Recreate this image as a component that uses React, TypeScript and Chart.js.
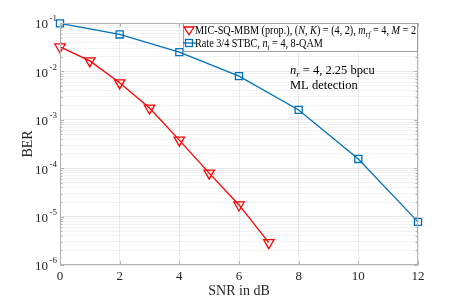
import React, { useEffect, useRef } from "react";
import { Chart, registerables } from "chart.js";

Chart.register(...registerables);

const snrProp = [0, 1, 2, 3, 4, 5, 6, 7];
const berProp = [0.032, 0.0165, 0.0058, 0.00175, 0.00038, 0.000079, 0.0000174, 0.0000029];
const snrStbc = [0, 2, 4, 6, 8, 10, 12];
const berStbc = [0.098, 0.058, 0.025, 0.008, 0.0016, 0.000155, 0.0000078];
const xTicks = [0, 2, 4, 6, 8, 10, 12];
const yDecades = [-1, -2, -3, -4, -5, -6];

const SERIF = '"Liberation Serif", "DejaVu Serif", serif';
const RED = "#ff0000";
const BLUE = "#0072bd";
const AXIS = "#b4b4b4";

type Seg = { t: string; i?: boolean; sub?: boolean };

function measureRich(ctx: CanvasRenderingContext2D, segs: Seg[], size: number) {
  let w = 0;
  for (const s of segs) {
    const fs = s.sub ? size * 0.7 : size;
    ctx.font = `${s.i ? "italic " : ""}${fs}px ${SERIF}`;
    w += ctx.measureText(s.t).width;
  }
  return w;
}

function drawRich(ctx: CanvasRenderingContext2D, segs: Seg[], x: number, y: number, size: number, sx = 1) {
  ctx.save();
  ctx.translate(x, y);
  ctx.scale(sx, 1);
  let cx = 0;
  for (const s of segs) {
    const fs = s.sub ? size * 0.7 : size;
    ctx.font = `${s.i ? "italic " : ""}${fs}px ${SERIF}`;
    ctx.fillText(s.t, cx, s.sub ? size * 0.25 : 0);
    cx += ctx.measureText(s.t).width;
  }
  ctx.restore();
}

function drawTri(ctx: CanvasRenderingContext2D, x: number, y: number, r: number) {
  ctx.beginPath();
  ctx.moveTo(x - r, y - r * 0.6);
  ctx.lineTo(x + r, y - r * 0.6);
  ctx.lineTo(x, y + r * 0.95);
  ctx.closePath();
  ctx.stroke();
}

const overlay = {
  id: "overlay",
  afterDraw(chart: any) {
    const ctx: CanvasRenderingContext2D = chart.ctx;
    const a = chart.chartArea;
    const ys = chart.scales.y;
    const xs = chart.scales.x;
    ctx.save();
    ctx.strokeStyle = AXIS;
    ctx.lineWidth = 1;
    ctx.strokeRect(a.left + 0.5, a.top + 0.5, a.right - a.left - 1, a.bottom - a.top - 1);
    ctx.beginPath();
    for (let d = -6; d <= -1; d++) {
      for (let m = 1; m <= 9; m++) {
        const v = m * Math.pow(10, d);
        if (v > 0.1 + 1e-12 || v < 1e-6 - 1e-15) continue;
        const py = Math.round(ys.getPixelForValue(v)) + 0.5;
        const len = m === 1 ? 4 : 2.5;
        ctx.moveTo(a.left, py);
        ctx.lineTo(a.left + len, py);
        ctx.moveTo(a.right, py);
        ctx.lineTo(a.right - len, py);
      }
    }
    for (const t of xTicks) {
      const px = Math.round(xs.getPixelForValue(t)) + 0.5;
      ctx.moveTo(px, a.bottom);
      ctx.lineTo(px, a.bottom - 4);
      ctx.moveTo(px, a.top);
      ctx.lineTo(px, a.top + 4);
    }
    ctx.stroke();

    ctx.fillStyle = "#262626";
    ctx.textBaseline = "middle";
    for (const d of yDecades) {
      const py = ys.getPixelForValue(Math.pow(10, d));
      ctx.font = `13px ${SERIF}`;
      ctx.textAlign = "right";
      ctx.fillText("10", 48, py + 2);
      ctx.textAlign = "left";
      ctx.font = `9px ${SERIF}`;
      ctx.fillText(String(d), 49.5, py - 4);
    }

    ctx.textAlign = "center";
    ctx.font = `14px ${SERIF}`;
    ctx.fillText("SNR in dB", (a.left + a.right) / 2, 291);
    ctx.save();
    ctx.translate(28, 144);
    ctx.rotate(-Math.PI / 2);
    ctx.fillText("BER", 0, 0);
    ctx.restore();

    const lx = 183, ly = a.top, lw = a.right - 183, lh = 29;
    ctx.fillStyle = "#ffffff";
    ctx.fillRect(lx, ly, lw, lh);
    ctx.strokeStyle = "#a0a0a0";
    ctx.strokeRect(lx + 0.5, ly + 0.5, lw - 1, lh - 1);
    ctx.textAlign = "left";
    ctx.textBaseline = "alphabetic";
    ctx.fillStyle = "#000";
    ctx.strokeStyle = RED;
    ctx.lineWidth = 1.3;
    drawTri(ctx, 189, 30, 5);
    ctx.strokeStyle = BLUE;
    ctx.strokeRect(185.5, 39.5, 7, 7);
    ctx.beginPath();
    ctx.moveTo(183, 43);
    ctx.lineTo(196, 43);
    ctx.stroke();
    const fs = 11.5;
    const row1: Seg[] = [
      { t: "MIC-SQ-MBM (prop.), (" }, { t: "N, K", i: true }, { t: ") = (4, 2), " },
      { t: "m", i: true }, { t: "rf", i: true, sub: true }, { t: " = 4, " }, { t: "M", i: true }, { t: " = 2" },
    ];
    const avail = a.right - 2 - 195;
    const w1 = measureRich(ctx, row1, fs);
    const sx = Math.min(1, avail / w1);
    drawRich(ctx, row1, 195, 34, fs, sx);
    const row2: Seg[] = [
      { t: "Rate 3/4 STBC, " }, { t: "n", i: true }, { t: "t", i: true, sub: true }, { t: " = 4, 8-QAM" },
    ];
    drawRich(ctx, row2, 195, 47, fs, sx);

    drawRich(ctx, [{ t: "n", i: true }, { t: "r", i: true, sub: true }, { t: " = 4, 2.25 bpcu" }], 290, 74, 12.5);
    drawRich(ctx, [{ t: "ML detection" }], 290, 89, 12.5);
    ctx.restore();
  },
};

export default function App() {
  const ref = useRef<HTMLCanvasElement | null>(null);
  useEffect(() => {
    document.body.style.margin = "0";
    const ctx = ref.current!.getContext("2d")!;
    const chart = new Chart(ctx, {
      type: "line",
      data: {
        datasets: [
          {
            label: "MIC-SQ-MBM",
            data: snrProp.map((x, i) => ({ x, y: berProp[i] })),
            borderColor: RED,
            backgroundColor: "transparent",
            borderWidth: 1.3,
            pointStyle: "triangle",
            rotation: 180,
            pointRadius: 6,
            pointBorderWidth: 1.3,
            pointBorderColor: RED,
            pointBackgroundColor: "transparent",
            clip: false,
          },
          {
            label: "STBC",
            data: snrStbc.map((x, i) => ({ x, y: berStbc[i] })),
            borderColor: BLUE,
            backgroundColor: "transparent",
            borderWidth: 1.3,
            pointStyle: "rect",
            pointRadius: 5,
            pointBorderWidth: 1.3,
            pointBorderColor: BLUE,
            pointBackgroundColor: "transparent",
            clip: false,
          },
        ],
      },
      options: {
        animation: false,
        responsive: false,
        layout: { padding: { top: 23, right: 45, left: 0, bottom: 0 } },
        plugins: { legend: { display: false }, tooltip: { enabled: false } },
        scales: {
          x: {
            type: "linear",
            min: 0,
            max: 12,
            afterBuildTicks: (s: any) => {
              s.ticks = xTicks.map((v) => ({ value: v }));
            },
            afterFit: (s: any) => {
              s.height = 35;
            },
            border: { display: false },
            grid: { color: "rgba(0,0,0,0.08)", drawTicks: false },
            ticks: {
              color: "#262626",
              font: { family: SERIF, size: 13 },
              padding: 4,
              maxRotation: 0,
            },
          },
          y: {
            type: "logarithmic",
            min: 1e-6,
            max: 0.1,
            afterBuildTicks: (s: any) => {
              const t: any[] = [];
              for (let d = -6; d <= -1; d++) {
                for (let m = 1; m <= 9; m++) {
                  const v = m * Math.pow(10, d);
                  if (v <= 0.1 + 1e-12) t.push({ value: v, major: m === 1 });
                }
              }
              s.ticks = t;
            },
            afterFit: (s: any) => {
              s.width = 60;
            },
            border: { display: false },
            grid: {
              drawTicks: false,
              color: (c: any) => {
                const v = c.tick ? c.tick.value : 0;
                const l = Math.log10(v);
                return Math.abs(l - Math.round(l)) < 1e-6 ? "rgba(0,0,0,0.09)" : "rgba(0,0,0,0.05)";
              },
            },
            ticks: { display: false },
          },
        },
      },
      plugins: [overlay],
    } as any);
    return () => chart.destroy();
  }, []);
  return <canvas ref={ref} width={463} height={300} style={{ display: "block", width: 463, height: 300 }} />;
}
